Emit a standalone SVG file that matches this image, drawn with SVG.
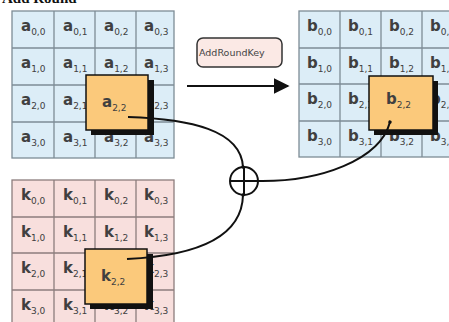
<svg xmlns="http://www.w3.org/2000/svg" width="449" height="322" viewBox="0 0 449 322">
  <style>
    .title { font-family: "Liberation Serif", serif; font-weight: bold; font-size: 15px; fill: #111; }
    .cellA { fill: #dcedf7; stroke: #7d8c96; stroke-width: 1.3; }
    .cellK { fill: #f8dfdd; stroke: #8c7d7d; stroke-width: 1.3; }
    .lbl { font-family: "DejaVu Sans", sans-serif; font-weight: bold; font-size: 15px; fill: #404040; }
    .sub { font-size: 9px; font-weight: normal; }
    .hi { fill: #fbc97b; stroke: #111; stroke-width: 1.5; }
    .shadow { fill: #111; }
    .op { font-family: "DejaVu Sans", sans-serif; font-size: 9.5px; fill: #444; }
    .wire { fill: none; stroke: #111; stroke-width: 2; }
  </style>
  <defs>
    <marker id="dot" viewBox="0 0 6 6" refX="3" refY="3" markerWidth="4" markerHeight="4" markerUnits="userSpaceOnUse" orient="auto">
      <circle cx="3" cy="3" r="2.5" fill="#111"/>
    </marker>
    <marker id="head" viewBox="0 0 10 10" refX="9" refY="5" markerWidth="16" markerHeight="16" markerUnits="userSpaceOnUse" orient="auto">
      <path d="M0,0 L10,5 L0,10 z" fill="#111"/>
    </marker>
    <clipPath id="opclip">
      <rect x="198" y="39" width="83" height="27" rx="5"/>
    </clipPath>
  </defs>

  <rect width="449" height="322" fill="#ffffff"/>
  <text class="title" x="2" y="3">Add Round</text>

  <!-- state matrix a -->
  <g id="state-a">
    <rect class="cellA" x="12" y="11" width="162" height="147"/>
    <path d="M54,11 V158 M95,11 V158 M136,11 V158 M12,48 H174 M12,85 H174 M12,122 H174" stroke="#7d8c96" stroke-width="1.3"/>
    <text class="lbl" x="21" y="31">a<tspan class="sub" dy="4">0,0</tspan></text>
    <text class="lbl" x="63" y="31">a<tspan class="sub" dy="4">0,1</tspan></text>
    <text class="lbl" x="104" y="31">a<tspan class="sub" dy="4">0,2</tspan></text>
    <text class="lbl" x="144" y="31">a<tspan class="sub" dy="4">0,3</tspan></text>
    <text class="lbl" x="21" y="68">a<tspan class="sub" dy="4">1,0</tspan></text>
    <text class="lbl" x="63" y="68">a<tspan class="sub" dy="4">1,1</tspan></text>
    <text class="lbl" x="104" y="68">a<tspan class="sub" dy="4">1,2</tspan></text>
    <text class="lbl" x="144" y="68">a<tspan class="sub" dy="4">1,3</tspan></text>
    <text class="lbl" x="21" y="105">a<tspan class="sub" dy="4">2,0</tspan></text>
    <text class="lbl" x="63" y="105">a<tspan class="sub" dy="4">2,1</tspan></text>
    <text class="lbl" x="144" y="105">a<tspan class="sub" dy="4">2,3</tspan></text>
    <text class="lbl" x="21" y="142">a<tspan class="sub" dy="4">3,0</tspan></text>
    <text class="lbl" x="63" y="142">a<tspan class="sub" dy="4">3,1</tspan></text>
    <text class="lbl" x="104" y="142">a<tspan class="sub" dy="4">3,2</tspan></text>
    <text class="lbl" x="144" y="142">a<tspan class="sub" dy="4">3,3</tspan></text>
  </g>

  <!-- state matrix b -->
  <g id="state-b">
    <rect class="cellA" x="299" y="11" width="164" height="146"/>
    <path d="M340,11 V157 M381,11 V157 M422,11 V157 M299,48 H463 M299,84 H463 M299,121 H463" stroke="#7d8c96" stroke-width="1.3"/>
    <text class="lbl" x="307" y="31">b<tspan class="sub" dy="4">0,0</tspan></text>
    <text class="lbl" x="348" y="31">b<tspan class="sub" dy="4">0,1</tspan></text>
    <text class="lbl" x="389" y="31">b<tspan class="sub" dy="4">0,2</tspan></text>
    <text class="lbl" x="430" y="31">b<tspan class="sub" dy="4">0,3</tspan></text>
    <text class="lbl" x="307" y="68">b<tspan class="sub" dy="4">1,0</tspan></text>
    <text class="lbl" x="348" y="68">b<tspan class="sub" dy="4">1,1</tspan></text>
    <text class="lbl" x="389" y="68">b<tspan class="sub" dy="4">1,2</tspan></text>
    <text class="lbl" x="430" y="68">b<tspan class="sub" dy="4">1,3</tspan></text>
    <text class="lbl" x="307" y="104">b<tspan class="sub" dy="4">2,0</tspan></text>
    <text class="lbl" x="348" y="104">b<tspan class="sub" dy="4">2,1</tspan></text>
    <text class="lbl" x="430" y="104">b<tspan class="sub" dy="4">2,3</tspan></text>
    <text class="lbl" x="307" y="141">b<tspan class="sub" dy="4">3,0</tspan></text>
    <text class="lbl" x="348" y="141">b<tspan class="sub" dy="4">3,1</tspan></text>
    <text class="lbl" x="389" y="141">b<tspan class="sub" dy="4">3,2</tspan></text>
    <text class="lbl" x="430" y="141">b<tspan class="sub" dy="4">3,3</tspan></text>
  </g>

  <!-- round key matrix k -->
  <g id="key-k">
    <rect class="cellK" x="12" y="180" width="162" height="147"/>
    <path d="M54,180 V327 M95,180 V327 M136,180 V327 M12,217 H174 M12,253 H174 M12,290 H174" stroke="#8c7d7d" stroke-width="1.3"/>
    <text class="lbl" x="21" y="200">k<tspan class="sub" dy="4">0,0</tspan></text>
    <text class="lbl" x="63" y="200">k<tspan class="sub" dy="4">0,1</tspan></text>
    <text class="lbl" x="104" y="200">k<tspan class="sub" dy="4">0,2</tspan></text>
    <text class="lbl" x="144" y="200">k<tspan class="sub" dy="4">0,3</tspan></text>
    <text class="lbl" x="21" y="237">k<tspan class="sub" dy="4">1,0</tspan></text>
    <text class="lbl" x="63" y="237">k<tspan class="sub" dy="4">1,1</tspan></text>
    <text class="lbl" x="104" y="237">k<tspan class="sub" dy="4">1,2</tspan></text>
    <text class="lbl" x="144" y="237">k<tspan class="sub" dy="4">1,3</tspan></text>
    <text class="lbl" x="21" y="273">k<tspan class="sub" dy="4">2,0</tspan></text>
    <text class="lbl" x="63" y="273">k<tspan class="sub" dy="4">2,1</tspan></text>
    <text class="lbl" x="144" y="273">k<tspan class="sub" dy="4">2,3</tspan></text>
    <text class="lbl" x="21" y="310">k<tspan class="sub" dy="4">3,0</tspan></text>
    <text class="lbl" x="63" y="310">k<tspan class="sub" dy="4">3,1</tspan></text>
    <text class="lbl" x="104" y="310">k<tspan class="sub" dy="4">3,2</tspan></text>
    <text class="lbl" x="144" y="310">k<tspan class="sub" dy="4">3,3</tspan></text>
  </g>

  <!-- highlighted bytes -->
  <g id="a22">
    <rect class="shadow" x="91" y="80" width="63" height="55"/>
    <rect class="hi" x="86" y="75" width="62" height="55"/>
    <text class="lbl" x="102" y="107">a<tspan class="sub" dy="4">2,2</tspan></text>
  </g>
  <g id="b22">
    <rect class="shadow" x="374" y="81" width="64" height="54"/>
    <rect class="hi" x="369" y="76" width="64" height="54"/>
    <text class="lbl" x="386" y="104">b<tspan class="sub" dy="4">2,2</tspan></text>
  </g>
  <g id="k22">
    <rect class="shadow" x="90" y="254" width="63" height="55"/>
    <rect class="hi" x="85" y="249" width="62" height="55"/>
    <text class="lbl" x="101" y="281">k<tspan class="sub" dy="4">2,2</tspan></text>
  </g>

  <!-- operation label -->
  <g id="addroundkey">
    <rect x="197" y="38" width="85" height="29" rx="6" fill="#fbe9e5" stroke="#333" stroke-width="1.5"/>
    <text class="op" x="199" y="56" clip-path="url(#opclip)">AddRoundKey</text>
  </g>

  <!-- XOR -->
  <g id="xor">
    <circle cx="244" cy="181" r="14" fill="#fff" stroke="#111" stroke-width="2"/>
    <path d="M230,181 H258 M244,167 V195" stroke="#111" stroke-width="2"/>
  </g>

  <!-- connectors -->
  <g id="connectors">
    <path class="wire" d="M187,86 H288" stroke-width="3" marker-end="url(#head)"/>
    <path class="wire" d="M128,117 C190,119 241,130 243,167" marker-end="url(#dot)"/>
    <path class="wire" d="M127,259 C190,256 242,240 243,195" marker-end="url(#dot)"/>
    <path class="wire" d="M258,181 C320,182 380,160 390,122" marker-end="url(#dot)"/>
  </g>
</svg>
